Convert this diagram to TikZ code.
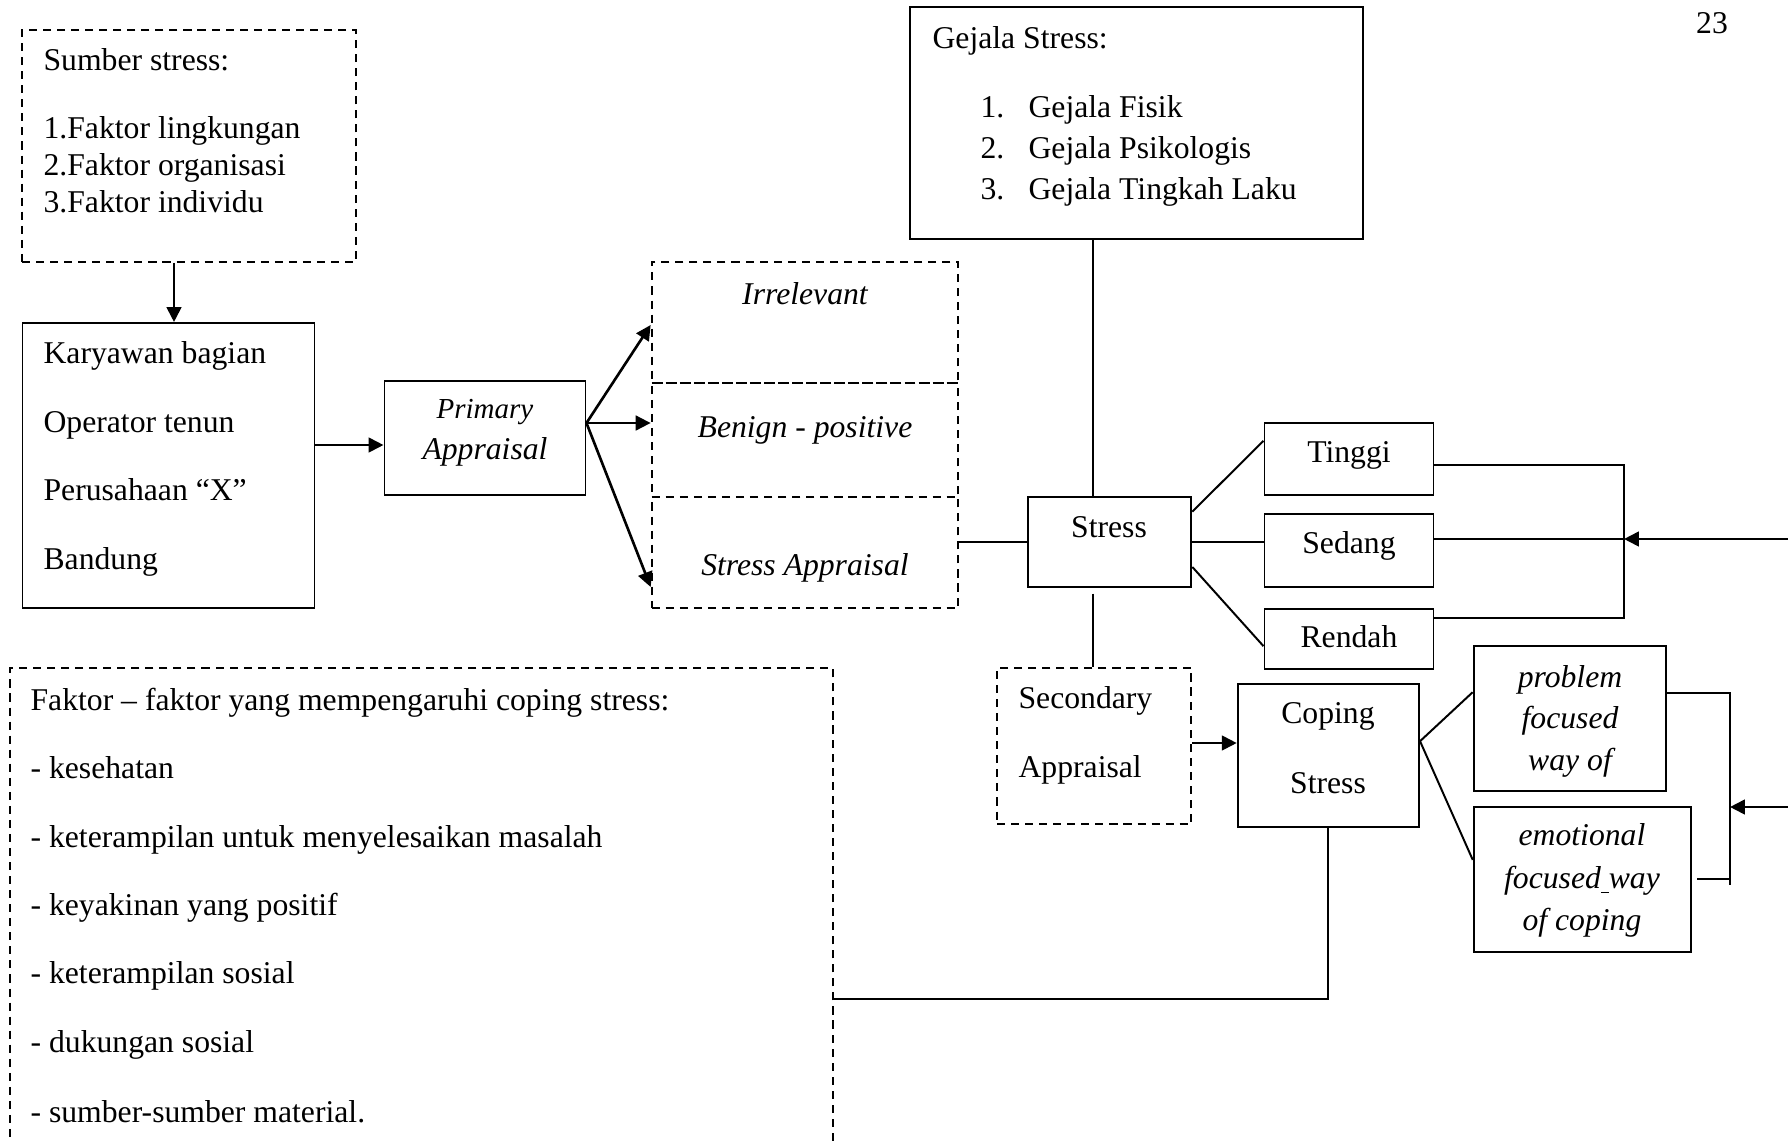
\documentclass[tikz,border=0pt]{standalone}
\usepackage{fontspec}
\setmainfont{Liberation Serif}
\usetikzlibrary{arrows.meta}

\begin{document}
\begin{tikzpicture}[x=0.3333333bp, y=-0.3333333bp,
    sz/.style 2 args={minimum width=#1*0.3333333bp, minimum height=#2*0.3333333bp},
    box/.style={draw, line width=.66pt, inner sep=0pt},
    dbox/.style={box, dash pattern=on 2.7pt off 2pt},
    txt/.style={inner sep=0pt, font=\fontsize{10.6}{12.4}\selectfont},
    itxt/.style={txt, font=\fontsize{10.6}{12.4}\selectfont\itshape},
    conn/.style={line width=.66pt},
    arr/.style={line width=.88pt, -{Triangle[length=5pt, width=4.9pt]}}]
    \useasboundingbox (0,0) rectangle (1788,1143);
    \clip (0,0) rectangle (1788,1143);

    % Page number
    \node[txt, anchor=base] (page) at (1712,33) {23};

    % Sumber stress
    \node[dbox, sz={334}{232}] (sumber) at (189,146) {};
    \foreach \name/\i/\y in {Sumber stress:/1/70, 1.Faktor lingkungan/2/138, 2.Faktor organisasi/3/175, 3.Faktor individu/4/212} {
        \node[txt, anchor=base west] (sumber-\i) at (43,\y) {\name};
    }

    % Karyawan
    \node[box, sz={292}{285}] (karyawan) at (168.5,465.5) {};
    \foreach \name/\i/\y in {Karyawan bagian/1/363, Operator tenun/2/432, Perusahaan “X”/3/500, Bandung/4/569} {
        \node[txt, anchor=base west] (karyawan-\i) at (43,\y) {\name};
    }

    % Primary appraisal
    \node[box, sz={201}{114}] (primary) at (485,438) {};
    \node[itxt, font=\fontsize{9.7}{11.4}\selectfont\itshape, anchor=base] (primary-1) at (485,418) {Primary};
    \node[itxt, anchor=base] (primary-2) at (485,459) {Appraisal};

    % Appraisal results
    \foreach \name/\cell/\y/\h/\ty in {Irrelevant/irr/322.3/120.7/304, Benign - positive/ben/439.7/114/437, Stress Appraisal/sap/552.3/111.3/575} {
        \node[dbox, sz={306.7}{\h}] (\cell) at (805,\y) {};
        \node[itxt, anchor=base] (\cell-t) at (805,\ty) {\name};
    }

    % Gejala stress
    \node[box, sz={453.5}{232}] (gejala) at (1136.7,123.3) {};
    \node[txt, anchor=base west] (gejala-0) at (932,48) {Gejala Stress:};
    \foreach \name/\i/\y in {Gejala Fisik/1/117, Gejala Psikologis/2/158, Gejala Tingkah Laku/3/199} {
        \node[txt, anchor=base west] (gejala-n\i) at (980,\y) {\i.};
        \node[txt, anchor=base west] (gejala-\i) at (1028,\y) {\name};
    }

    % Stress and levels
    \node[box, sz={163.3}{90}] (stress) at (1109.7,541.7) {};
    \node[txt, anchor=base] (stress-t) at (1109,537) {Stress};
    \foreach \name/\lvl/\y/\h/\ty in {Tinggi/tinggi/459/72.6/462, Sedang/sedang/550.3/72.7/553, Rendah/rendah/638.7/60/647} {
        \node[box, sz={169}{\h}] (\lvl) at (1349,\y) {};
        \node[txt, anchor=base] (\lvl-t) at (1349,\ty) {\name};
    }

    % Secondary appraisal and coping
    \node[dbox, sz={194.3}{156.3}] (secondary) at (1094.2,746.2) {};
    \node[txt, anchor=base west] (secondary-1) at (1018,708) {Secondary};
    \node[txt, anchor=base west] (secondary-2) at (1018,777) {Appraisal};
    \node[box, sz={181.3}{143.3}] (coping) at (1328.4,755.7) {};
    \node[txt, anchor=base] (coping-1) at (1328,723) {Coping};
    \node[txt, anchor=base] (coping-2) at (1328,793) {Stress};

    % Coping ways
    \node[box, sz={192.7}{144.7}] (problem) at (1570,718.3) {};
    \foreach \name/\i/\y in {problem/1/687, focused/2/728, way of/3/770} {
        \node[itxt, anchor=base] (problem-\i) at (1570,\y) {\name};
    }
    \node[box, sz={217.3}{145}] (emotional) at (1582.4,879.2) {};
    \foreach \name/\i/\y in {emotional/1/845, focused\underline{\ }way/2/888, of coping/3/930} {
        \node[itxt, anchor=base] (emotional-\i) at (1582,\y) {\name};
    }

    % Faktor coping
    \node[dbox, sz={822.7}{661.4}] (faktor) at (421.3,999) {};
    \foreach \name/\i/\y in {Faktor – faktor yang mempengaruhi coping stress:/1/710, - kesehatan/2/778, - keterampilan untuk menyelesaikan masalah/3/847, - keyakinan yang positif/4/915, - keterampilan sosial/5/983, - dukungan sosial/6/1052, - sumber-sumber material./7/1122} {
        \node[txt, anchor=base west] (faktor-\i) at (30,\y) {\name};
    }

    % Connectors
    \coordinate (xs) at (174,0);
    \coordinate (yk) at (0,445);
    \coordinate (ya) at (0,423);
    \coordinate (ys) at (0,743);
    \coordinate (xg) at (1093,0);
    \coordinate (lv) at (1624,539);
    \coordinate (lvin) at (1788,539);
    \coordinate (cb) at (1730,885);
    \coordinate (cjin) at (1788,807);

    \draw[arr] (sumber.south -| xs) -- (karyawan.north -| xs);
    \draw[arr] (karyawan.east |- yk) -- (primary.west |- yk);
    \foreach \cell/\y in {irr/325, ben/423, sap/587} {
        \draw[arr] (primary.east |- ya) -- (\cell.west |- 0,\y);
    }
    \draw[conn] (sap.east |- stress.west) -- (stress.west);
    \draw[conn] (gejala.south -| xg) -- (stress.north -| xg);
    \draw[conn] (stress.south -| xg) ++(0,6) -- (secondary.north -| xg);
    \draw[conn] (stress.20) -- (tinggi.168);
    \draw[conn] (stress.east) -- (stress.east -| sedang.west);
    \draw[conn] (stress.-17) -- (rendah.185);
    \draw[conn] ([yshift=-2.1pt]tinggi.east) -| (lv) |- ([yshift=6.8pt]rendah.east);
    \draw[conn] (sedang.east |- lv) -- (lv);
    \draw[arr] (lvin) -- (lv);
    \draw[arr] (secondary.east |- ys) -- (coping.west |- ys);
    \draw[conn] (coping.9) -- (problem.165);
    \draw[conn] (coping.9) -- (emotional.170);
    \draw[conn] ([yshift=8.4pt]problem.east) -| (cb);
    \draw[conn] ([xshift=1.7pt]emotional.east) -- (emotional.east -| cb);
    \draw[arr] (cjin) -- (cjin -| cb);
    \draw[conn] (coping.south) |- (faktor.east);
\end{tikzpicture}
\end{document}
